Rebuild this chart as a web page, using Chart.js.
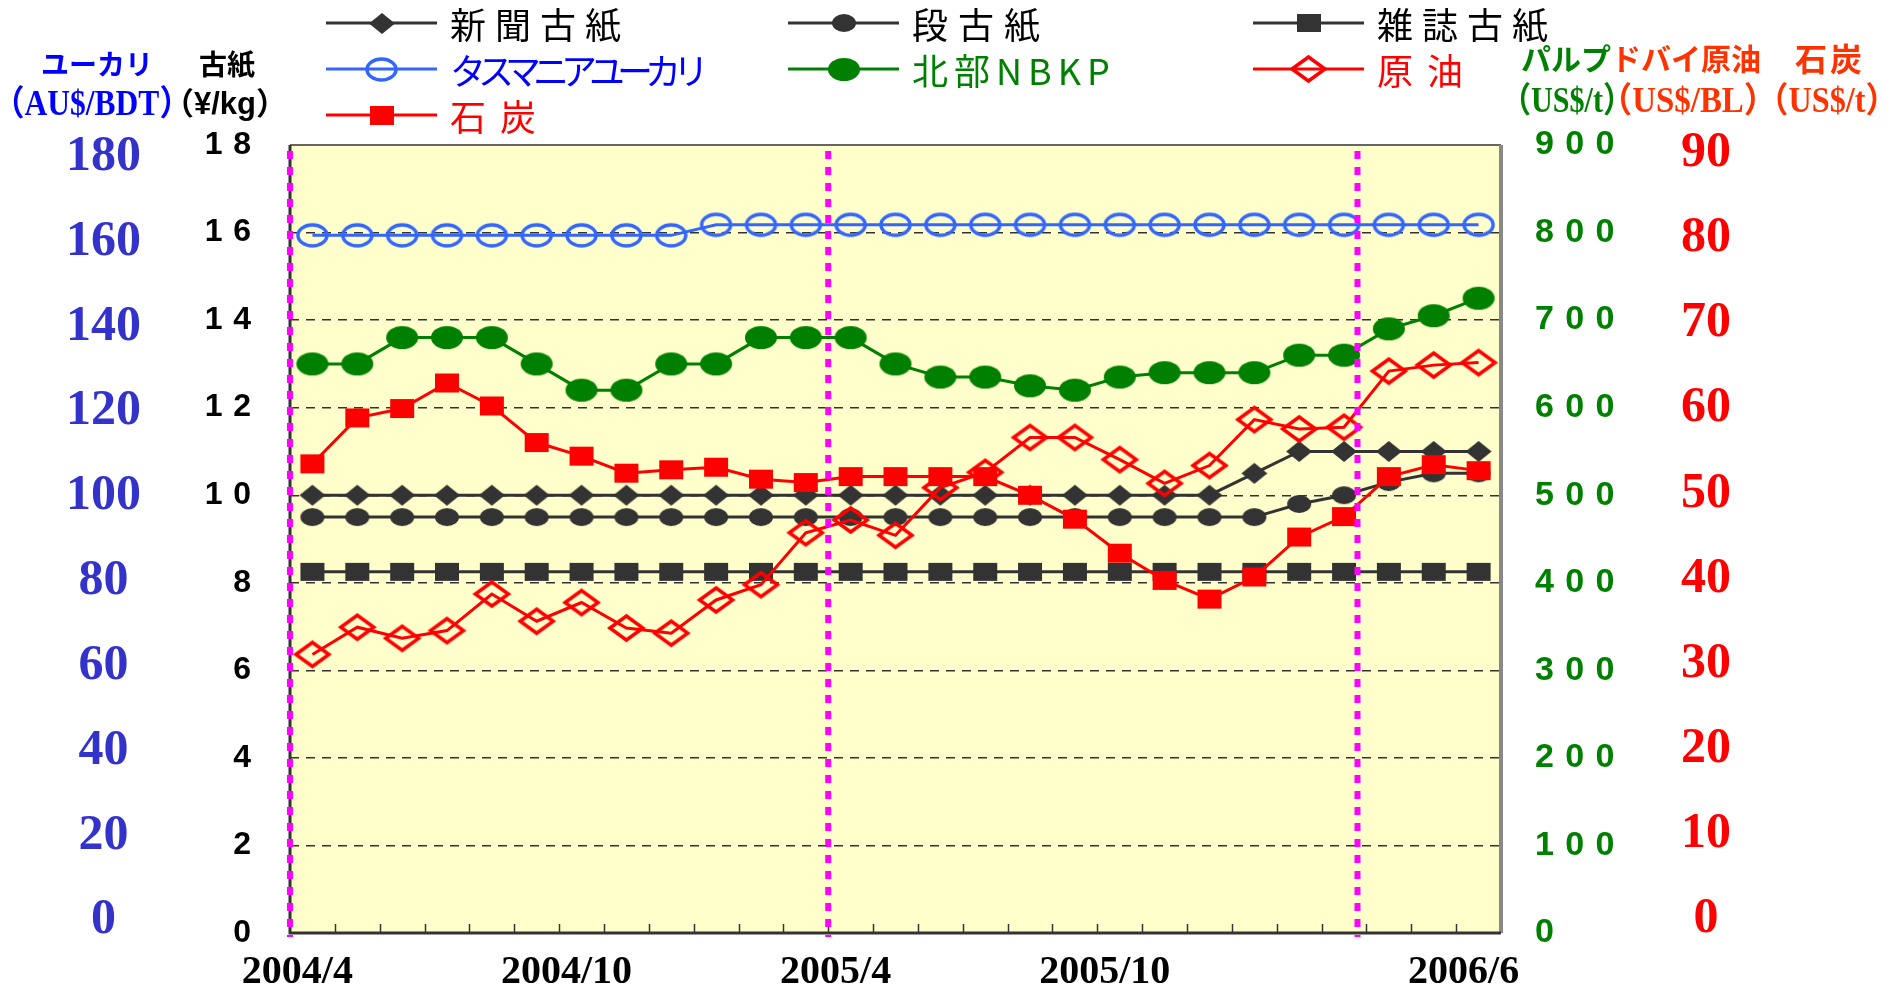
<!DOCTYPE html>
<html lang="ja">
<head>
<meta charset="UTF-8" />
<title>古紙・パルプ・原油・石炭価格の推移</title>
<script src="https://cdn.jsdelivr.net/npm/chart.js"></script>
<style>
  html, body { margin: 0; padding: 0; background: #fff; overflow: hidden; }
  .wrap { position: relative; width: 1895px; height: 984px; }
  #priceChart { position: absolute; left: 0; top: 0; }
  .legend {
    position: absolute; left: 326px; top: 0;
    display: grid; grid-template-columns: 462px 465px 420px; grid-auto-rows: 46px;
    font-family: "Noto Sans CJK JP", sans-serif; font-size: 36px;
  }
  .legend-item { display: flex; align-items: center; white-space: nowrap; }
  .legend-item canvas { margin-right: 13px; }
  .head { position: absolute; white-space: nowrap; line-height: 1; font-weight: bold; transform: translate(-50%, -50%); }
  .jp { font-family: "Noto Sans CJK JP", sans-serif; font-size: 28px; }
  .unit { font-family: "Liberation Serif", "Noto Sans CJK JP", serif; font-size: 35px; transform: translate(-50%, -50%) scaleX(0.9); }
</style>
</head>
<body>
<div class="wrap">
  <canvas id="priceChart" width="1895" height="984"></canvas>
  <div class="legend" id="legend"></div>

  <div class="head jp" style="left:97px; top:63px; color:#0000ff">ユーカリ</div>
  <div class="head unit" style="left:92px; top:103px; color:#0000ff">（AU$/BDT）</div>
  <div class="head jp" style="left:227px; top:63px; color:#000">古紙</div>
  <div class="head unit" style="left:225px; top:103px; color:#000; font-family:'Liberation Sans','Noto Sans CJK JP',sans-serif; font-size:31px; transform:translate(-50%,-50%)">（¥/kg）</div>

  <div class="head jp" style="left:1566px; top:57px; color:#008000; font-size:30px">パルプ</div>
  <div class="head jp" style="left:1686px; top:57px; color:#ff3300; font-size:30px">ドバイ原油</div>
  <div class="head jp" style="left:1830px; top:57px; color:#ff3300; font-size:32px; letter-spacing:3px">石炭</div>
  <div class="head unit" style="left:1567px; top:100px; color:#008000; transform:translate(-50%,-50%) scaleX(0.86)">（US$/t）</div>
  <div class="head unit" style="left:1688px; top:100px; color:#ff3300; transform:translate(-50%,-50%) scaleX(0.94)">（US$/BL）</div>
  <div class="head unit" style="left:1827px; top:100px; color:#ff3300; transform:translate(-50%,-50%) scaleX(0.92)">（US$/t）</div>
</div>

<script>
  const months = [
    "2004/4", "2004/5", "2004/6", "2004/7", "2004/8", "2004/9", "2004/10", "2004/11", "2004/12",
    "2005/1", "2005/2", "2005/3", "2005/4", "2005/5", "2005/6", "2005/7", "2005/8", "2005/9",
    "2005/10", "2005/11", "2005/12", "2006/1", "2006/2", "2006/3", "2006/4", "2006/5", "2006/6",
  ];
  const shownMonths = ["2004/4", "2004/10", "2005/4", "2005/10", "2006/6"];

  // 古紙 (¥/kg)
  const newsprint = [10, 10, 10, 10, 10, 10, 10, 10, 10, 10, 10, 10, 10, 10, 10, 10, 10, 10, 10, 10, 10, 10.5, 11, 11, 11, 11, 11];
  const corrugated = [9.5, 9.5, 9.5, 9.5, 9.5, 9.5, 9.5, 9.5, 9.5, 9.5, 9.5, 9.5, 9.5, 9.5, 9.5, 9.5, 9.5, 9.5, 9.5, 9.5, 9.5, 9.5, 9.8, 10, 10.3, 10.5, 10.5];
  const magazine = [8.25, 8.25, 8.25, 8.25, 8.25, 8.25, 8.25, 8.25, 8.25, 8.25, 8.25, 8.25, 8.25, 8.25, 8.25, 8.25, 8.25, 8.25, 8.25, 8.25, 8.25, 8.25, 8.25, 8.25, 8.25, 8.25, 8.25];
  // ユーカリ (AU$/BDT)
  const eucalyptus = [161.5, 161.5, 161.5, 161.5, 161.5, 161.5, 161.5, 161.5, 161.5, 164, 164, 164, 164, 164, 164, 164, 164, 164, 164, 164, 164, 164, 164, 164, 164, 164, 164];
  // パルプ (US$/t)
  const nbkp = [650, 650, 680, 680, 680, 650, 620, 620, 650, 650, 680, 680, 680, 650, 635, 635, 625, 620, 635, 640, 640, 640, 660, 660, 690, 705, 725];
  // ドバイ原油 (US$/BL), 石炭 (US$/t)
  const dubaiOil = [31.1, 34.3, 33.0, 33.9, 38.2, 35.0, 37.2, 34.2, 33.6, 37.5, 39.3, 45.4, 46.9, 45.1, 50.7, 52.5, 56.6, 56.6, 54.0, 51.2, 53.3, 58.7, 57.6, 57.8, 64.4, 65.1, 65.4];
  const coal = [53.5, 58.9, 60.0, 63.0, 60.3, 56.0, 54.4, 52.4, 52.8, 53.1, 51.7, 51.3, 52.0, 52.0, 52.0, 52.0, 49.8, 47.0, 43.0, 39.8, 37.6, 40.2, 44.9, 47.3, 52.0, 53.4, 52.7];

  const eucalyptusTicks = [0, 20, 40, 60, 80, 100, 120, 140, 160, 180];
  const crudeTicks = [0, 10, 20, 30, 40, 50, 60, 70, 80, 90];
  // month boundaries (counted from 2004/4) where the pink dotted lines stand
  const dividers = [0, 12, 23.8];

  function marker(shape, w, h, fill, stroke, lw = 0) {
    const pad = Math.ceil(lw) + 1;
    const c = document.createElement("canvas");
    c.width = w + pad * 2;
    c.height = h + pad * 2;
    const g = c.getContext("2d");
    const cx = c.width / 2, cy = c.height / 2;
    g.beginPath();
    if (shape === "ellipse") {
      g.ellipse(cx, cy, w / 2, h / 2, 0, 0, Math.PI * 2);
    } else if (shape === "diamond") {
      g.moveTo(cx - w / 2, cy);
      g.lineTo(cx, cy - h / 2);
      g.lineTo(cx + w / 2, cy);
      g.lineTo(cx, cy + h / 2);
      g.closePath();
    } else {
      g.rect(cx - w / 2, cy - h / 2, w, h);
    }
    if (fill) { g.fillStyle = fill; g.fill(); }
    if (stroke) { g.strokeStyle = stroke; g.lineWidth = lw; g.stroke(); }
    return c;
  }

  const series = [
    { label: "新聞古紙", data: newsprint, axis: "yPaper", color: "#333333", text: "#000", spacing: 9, order: 4,
      point: marker("diamond", 26, 21, "#333333") },
    { label: "段古紙", data: corrugated, axis: "yPaper", color: "#333333", text: "#000", spacing: 10, order: 5,
      point: marker("ellipse", 24, 18, "#333333") },
    { label: "雑誌古紙", data: magazine, axis: "yPaper", color: "#333333", text: "#000", spacing: 9, order: 6,
      point: marker("rect", 24, 18, "#333333") },
    { label: "タスマニアユーカリ", data: eucalyptus, axis: "yEuc", color: "#3366ff", text: "#0000ff", spacing: -8, order: 3,
      point: marker("ellipse", 29, 21, null, "#3366ff", 3.5) },
    { label: "北部NBKP", data: nbkp, axis: "yPulp", color: "#008000", text: "#008000", spacing: 6, order: 2,
      point: marker("ellipse", 32, 23, "#008000") },
    { label: "原油", data: dubaiOil, axis: "yOil", color: "#ff0000", text: "#ff0000", spacing: 14, order: 1,
      point: marker("diamond", 33, 24, null, "#ff0000", 3.5) },
    { label: "石炭", data: coal, axis: "yOil", color: "#ff0000", text: "#ff0000", spacing: 14, order: 0,
      point: marker("rect", 24, 19, "#ff0000") },
  ];

  // legend, three columns like the original
  const legendBox = document.getElementById("legend");
  series.forEach((s) => {
    const item = document.createElement("div");
    item.className = "legend-item";
    const c = document.createElement("canvas");
    c.width = 111;
    c.height = 46;
    const g = c.getContext("2d");
    g.strokeStyle = s.color;
    g.lineWidth = 3;
    g.beginPath();
    g.moveTo(0, 23);
    g.lineTo(111, 23);
    g.stroke();
    g.drawImage(s.point, Math.round(55.5 - s.point.width / 2), Math.round(23 - s.point.height / 2));
    const t = document.createElement("span");
    t.textContent = s.label;
    t.style.color = s.text;
    t.style.letterSpacing = s.spacing + "px";
    item.append(c, t);
    legendBox.append(item);
  });

  const spaced = (v) => String(v).split("").join("\u2004");

  // keep the big tick labels from pushing the plot area around
  const fixWidth = (w) => (s) => {
    s.width = w;
    s.paddingTop = 0;
    s.paddingBottom = 0;
  };

  const plotFrame = {
    id: "plotFrame",
    beforeDraw(chart) {
      const { ctx, chartArea: a } = chart;
      ctx.save();
      ctx.fillStyle = "#ffffcc";
      ctx.fillRect(a.left, a.top, a.right - a.left, a.bottom - a.top);
      ctx.restore();
    },
    afterDatasetsDraw(chart) {
      const { ctx, chartArea: a } = chart;
      const x = chart.scales.x;
      ctx.save();
      // frame
      ctx.lineWidth = 2;
      ctx.strokeStyle = "#666";
      ctx.beginPath(); ctx.moveTo(a.left, a.top); ctx.lineTo(a.right, a.top); ctx.stroke();
      ctx.lineWidth = 4;
      ctx.strokeStyle = "#888";
      ctx.beginPath(); ctx.moveTo(a.right, a.top); ctx.lineTo(a.right, a.bottom); ctx.stroke();
      ctx.lineWidth = 3;
      ctx.strokeStyle = "#333";
      ctx.beginPath(); ctx.moveTo(a.left, a.top); ctx.lineTo(a.left, a.bottom); ctx.lineTo(a.right, a.bottom); ctx.stroke();
      // inner tick marks on the month boundaries
      ctx.lineWidth = 1.5;
      for (let i = 1; i < months.length; i++) {
        const px = Math.round(x.getPixelForValue(i - 0.5)) + 0.5;
        ctx.beginPath(); ctx.moveTo(px, a.bottom); ctx.lineTo(px, a.bottom - 9); ctx.stroke();
      }
      // pink dotted dividers
      ctx.strokeStyle = "#ff00ff";
      ctx.lineWidth = 6;
      ctx.setLineDash([8, 8]);
      dividers.forEach((d) => {
        const px = x.getPixelForValue(d - 0.5);
        ctx.beginPath(); ctx.moveTo(px, a.top + 6); ctx.lineTo(px, a.bottom + 4); ctx.stroke();
      });
      ctx.restore();
    },
  };

  new Chart(document.getElementById("priceChart"), {
    type: "line",
    data: {
      labels: months,
      datasets: series.map((s) => ({
        label: s.label,
        data: s.data,
        yAxisID: s.axis,
        order: s.order,
        borderColor: s.color,
        backgroundColor: s.color,
        borderWidth: 3,
        tension: 0,
        fill: false,
        pointStyle: s.point,
        pointRadius: 12,
        pointHoverRadius: 12,
      })),
    },
    options: {
      responsive: false,
      animation: false,
      events: [],
      layout: { padding: { top: 145, left: 0, right: 0, bottom: 0 } },
      plugins: { legend: { display: false }, tooltip: { enabled: false } },
      scales: {
        x: {
          type: "category",
          offset: true,
          grid: { display: false, drawTicks: false },
          border: { display: false },
          ticks: {
            autoSkip: false,
            maxRotation: 0,
            minRotation: 0,
            padding: 16,
            labelOffset: -15,
            color: "#000",
            font: { family: "Liberation Serif", size: 40, weight: "bold" },
            callback: (v, i) => (shownMonths.includes(months[i]) ? months[i] : ""),
          },
          afterFit: (s) => { s.height = 51; s.paddingLeft = 0; s.paddingRight = 0; },
        },
        yPaper: {
          position: "left",
          weight: 0,
          min: 0,
          max: 18,
          ticks: {
            stepSize: 2,
            padding: 39,
            color: "#000",
            font: { family: "Liberation Sans", size: 32, weight: "bold" },
            callback: (v) => spaced(v),
          },
          grid: {
            drawTicks: false,
            lineWidth: 1.4,
            color: (c) => (c.tick && c.tick.value > 0 && c.tick.value < 18 ? "#333" : "rgba(0,0,0,0)"),
          },
          border: { display: false, dash: [9, 7] },
          afterFit: fixWidth(100),
        },
        yEuc: {
          position: "left",
          weight: 1,
          min: -2.94,
          max: 182.8,
          afterBuildTicks: (s) => { s.ticks = eucalyptusTicks.map((v) => ({ value: v })); },
          ticks: {
            padding: 49,
            crossAlign: "center",
            color: "#3333cc",
            font: { family: "Liberation Serif", size: 50, weight: "bold" },
          },
          grid: { display: false, drawTicks: false },
          border: { display: false },
          afterFit: fixWidth(190),
        },
        yPulp: {
          position: "right",
          weight: 0,
          min: 0,
          max: 900,
          ticks: {
            stepSize: 100,
            padding: 34,
            color: "#008000",
            font: { family: "Liberation Sans", size: 34, weight: "bold" },
            callback: (v) => spaced(v),
          },
          grid: { display: false, drawTicks: false },
          border: { display: false },
          afterFit: fixWidth(120),
        },
        yOil: {
          position: "right",
          weight: 1,
          min: -1.64,
          max: 90.97,
          afterBuildTicks: (s) => { s.ticks = crudeTicks.map((v) => ({ value: v })); },
          ticks: {
            padding: 60,
            crossAlign: "center",
            color: "#ff0000",
            font: { family: "Liberation Serif", size: 50, weight: "bold" },
          },
          grid: { display: false, drawTicks: false },
          border: { display: false },
          afterFit: fixWidth(274),
        },
      },
    },
    plugins: [plotFrame],
  });
</script>
</body>
</html>
